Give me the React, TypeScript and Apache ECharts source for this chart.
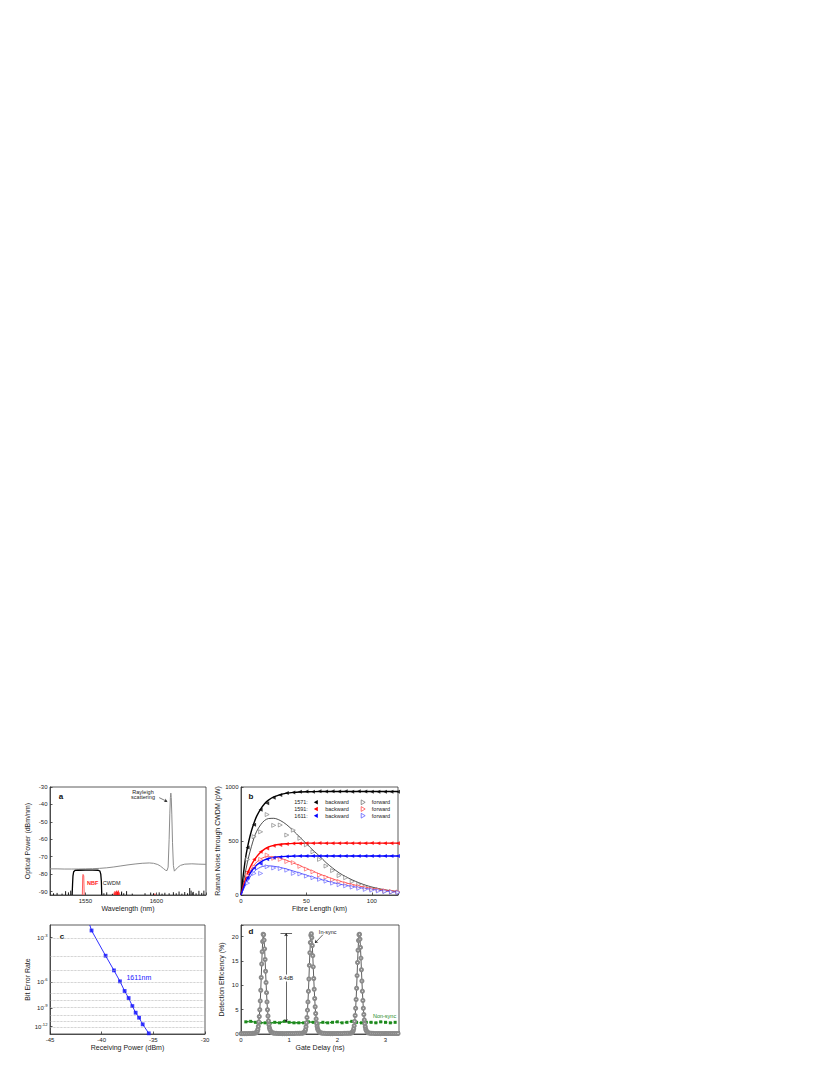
import React, { useEffect, useRef } from "react";
import * as echarts from "echarts";

const FONT = '"Liberation Sans", Arial, Helvetica, sans-serif';

// ---------------- Panel a : optical spectrum ----------------
const spectrumWl = [1525, 1530, 1535, 1540, 1545, 1550, 1555, 1560, 1565, 1570, 1575, 1580, 1585, 1590, 1595, 1598, 1601, 1603, 1605, 1606.5, 1607.5, 1608.3, 1609, 1609.5, 1609.9, 1610.2, 1610.5, 1610.9, 1611.4, 1612, 1612.7, 1613.5, 1615, 1617, 1620, 1625, 1630, 1635];
const spectrumDbm = [-77.0, -77.0, -77.1, -77.1, -77.1, -77.0, -76.9, -76.7, -76.4, -75.9, -75.3, -74.7, -74.2, -73.8, -73.6, -73.8, -74.5, -75.5, -76.8, -77.8, -78.0, -76, -60, -45, -36, -33.5, -36, -46, -62, -75, -78.3, -77.6, -76.2, -75.0, -74.3, -74.1, -74.3, -74.4];
const cwdmWl = [1540.6, 1540.9, 1541.2, 1541.7, 1542.6, 1545, 1550, 1555, 1559, 1560.2, 1560.8, 1561.2, 1561.5];
const cwdmDbm = [-92, -86, -81, -78.6, -77.9, -77.8, -77.7, -77.7, -77.8, -78.3, -80, -84, -92];
const nbfWl = [1547.8, 1548.1, 1548.3, 1548.6, 1548.8, 1549.1];
const nbfDbm = [-92, -81, -80.2, -80.2, -81, -92];
const noiseBlackWl = [1527.5, 1530, 1533.5, 1536, 1538, 1539.6, 1563, 1565, 1569, 1575.5, 1577, 1579, 1583, 1592, 1596, 1598, 1602, 1604, 1606, 1609, 1612, 1614, 1616, 1618, 1620, 1622, 1623.5, 1624.5, 1626, 1628, 1630, 1632, 1633.5];
const noiseBlackDbm = [-91, -90.8, -91.2, -89.8, -90.5, -89.5, -91, -90.5, -91.3, -90, -91, -89.8, -91.2, -91, -90.6, -91, -90.5, -91.2, -90.7, -91, -90.4, -91, -90, -91.2, -90.3, -91, -88, -89.5, -90.2, -91, -89.6, -90.8, -89.5];
const noiseRedWl = [1570.2, 1570.8, 1571.4, 1572, 1572.6, 1573.2, 1573.8, 1599];
const noiseRedDbm = [-90.6, -89.8, -90.3, -89.5, -90.1, -89.4, -90.5, -91.2];
const aYTicks = [-90, -80, -70, -60, -50, -40, -30];

// ---------------- Panel b : Raman noise vs fibre length ----------------
const legendNames = ["1571:", "1591:", "1611:"];
const fibreKm = [5, 10, 15, 20, 25, 30, 35, 40, 45, 50, 55, 60, 65, 70, 75, 80, 85, 90, 95, 100, 105, 110, 115, 120];
const ptBwd1571 = [440, 650, 790, 850, 900, 925, 945, 950, 955, 958, 955, 960, 958, 960, 958, 960, 957, 960, 958, 956, 957, 955, 956, 955];
const ptFwd1571 = [330, 540, 585, 745, 645, 648, 555, 600, 525, 465, 400, 330, 268, 226, 180, 160, 125, 100, 78, 60, 48, 35, 28, 22];
const ptBwd1591 = [215, 330, 400, 430, 456, 463, 472, 476, 478, 480, 479, 481, 480, 479, 480, 481, 480, 479, 480, 481, 480, 479, 480, 480];
const ptFwd1591 = [180, 262, 330, 370, 340, 330, 310, 300, 265, 240, 215, 185, 165, 140, 125, 105, 90, 78, 66, 55, 47, 40, 33, 28];
const ptBwd1611 = [160, 250, 290, 330, 345, 352, 357, 360, 361, 360, 361, 362, 361, 360, 361, 361, 360, 361, 362, 361, 360, 361, 361, 360];
const ptFwd1611 = [110, 200, 200, 262, 250, 245, 230, 200, 195, 175, 160, 145, 128, 110, 95, 85, 73, 62, 52, 45, 38, 32, 27, 23];
const fitKm = [0, 2, 4, 6, 8, 10, 12, 15, 18, 21, 25, 30, 35, 40, 45, 50, 55, 60, 65, 70, 75, 80, 85, 90, 95, 100, 105, 110, 115, 120];
const fitBwd1571 = [0, 210, 380, 500, 595, 670, 730, 795, 845, 878, 908, 930, 943, 950, 954, 956, 957, 958, 958, 959, 959, 959, 959, 959, 959, 959, 959, 959, 959, 959];
const fitFwd1571 = [0, 130, 250, 360, 450, 530, 590, 650, 690, 708, 710, 690, 650, 595, 535, 475, 415, 360, 300, 250, 205, 170, 140, 114, 92, 74, 60, 48, 39, 32];
const fitBwd1591 = [0, 90, 170, 230, 280, 320, 355, 395, 425, 445, 460, 470, 475, 478, 479, 480, 480, 480, 480, 480, 480, 480, 480, 480, 480, 480, 480, 480, 480, 480];
const fitFwd1591 = [0, 75, 140, 195, 240, 275, 305, 335, 350, 355, 352, 340, 320, 297, 272, 245, 220, 195, 172, 150, 130, 113, 98, 84, 72, 62, 53, 45, 38, 32];
const fitBwd1611 = [0, 70, 130, 180, 220, 252, 278, 305, 325, 338, 348, 355, 358, 360, 361, 361, 361, 361, 361, 361, 361, 361, 361, 361, 361, 361, 361, 361, 361, 361];
const fitFwd1611 = [0, 55, 105, 148, 185, 215, 237, 258, 268, 270, 266, 255, 240, 222, 203, 184, 165, 147, 131, 116, 102, 90, 79, 69, 60, 52, 44, 37, 31, 26];

// ---------------- Panel c : BER ----------------
const rxPower = [-40.98, -39.62, -38.81, -38.23, -37.78, -37.39, -37.03, -36.71, -36.38, -36.03, -35.44];
const berExp = [2.68, 3.97, 4.99, 5.92, 6.88, 7.68, 8.7, 9.65, 10.43, 11.57, 13.31]; // BER = 10^-n
const berLineLead = [-41.15, 2.46];
const berGridExp = [3, 4, 5, 6, 7, 8, 9, 10, 11, 12];
const berLabelExp = [3, 6, 9, 12];

// ---------------- Panel d : detection efficiency ----------------
const inSyncDelay = [
  0.0, 0.04, 0.08, 0.12, 0.16, 0.2, 0.24, 0.27, 0.3, 0.32, 0.33,
  0.34, 0.35, 0.36, 0.37, 0.38, 0.39, 0.4, 0.41, 0.42, 0.43, 0.44, 0.45, 0.46, 0.47, 0.48, 0.49, 0.5, 0.51, 0.52, 0.53, 0.54, 0.55, 0.56, 0.57, 0.58, 0.59, 0.6, 0.62, 0.64, 0.67, 0.7,
  0.74, 0.78, 0.82, 0.86, 0.9, 0.94, 0.98, 1.02, 1.06, 1.1, 1.14, 1.18, 1.22, 1.26, 1.29, 1.31, 1.32,
  1.33, 1.34, 1.35, 1.36, 1.37, 1.38, 1.39, 1.4, 1.41, 1.42, 1.43, 1.44, 1.45, 1.46, 1.47, 1.48, 1.49, 1.5, 1.51, 1.52, 1.53, 1.54, 1.55, 1.56, 1.57, 1.58, 1.59, 1.6, 1.62, 1.64, 1.67, 1.7,
  1.74, 1.78, 1.82, 1.86, 1.9, 1.94, 1.98, 2.02, 2.06, 2.1, 2.14, 2.18, 2.22, 2.26, 2.29, 2.31,
  2.32, 2.33, 2.34, 2.35, 2.36, 2.37, 2.38, 2.39, 2.4, 2.41, 2.42, 2.43, 2.44, 2.45, 2.46, 2.47, 2.48, 2.49, 2.5, 2.51, 2.52, 2.53, 2.54, 2.55, 2.56, 2.57, 2.58, 2.59, 2.6, 2.62, 2.64, 2.67, 2.7,
  2.74, 2.78, 2.82, 2.86, 2.9, 2.94, 2.98, 3.02, 3.06, 3.1, 3.14, 3.18, 3.22, 3.26,
];
const inSyncEff = [
  0.08, 0.07, 0.09, 0.08, 0.1, 0.1, 0.12, 0.15, 0.2, 0.3, 0.42,
  0.62, 1.0, 1.6, 2.5, 3.6, 5.0, 6.8, 9.0, 11.6, 14.4, 16.9, 19.0, 20.5, 20.4, 19.3, 17.5, 15.3, 12.9, 10.6, 8.5, 6.6, 5.0, 3.7, 2.7, 1.9, 1.3, 0.9, 0.5, 0.3, 0.2, 0.15,
  0.12, 0.1, 0.1, 0.09, 0.08, 0.09, 0.1, 0.1, 0.11, 0.1, 0.12, 0.12, 0.14, 0.16, 0.2, 0.3, 0.4,
  0.6, 0.9, 1.5, 2.3, 3.4, 4.9, 6.6, 8.8, 11.3, 14.1, 16.7, 18.8, 20.3, 20.6, 19.8, 18.2, 16.1, 13.8, 11.4, 9.2, 7.3, 5.6, 4.2, 3.1, 2.2, 1.6, 1.1, 0.8, 0.45, 0.3, 0.2, 0.15,
  0.12, 0.11, 0.1, 0.09, 0.09, 0.1, 0.1, 0.11, 0.1, 0.11, 0.12, 0.13, 0.14, 0.16, 0.2, 0.3,
  0.45, 0.7, 1.1, 1.7, 2.6, 3.8, 5.3, 7.1, 9.4, 12.0, 14.7, 17.2, 19.2, 20.4, 20.5, 19.5, 17.8, 15.6, 13.2, 10.9, 8.8, 6.9, 5.3, 4.0, 2.9, 2.1, 1.5, 1.0, 0.7, 0.4, 0.25, 0.18, 0.14,
  0.12, 0.11, 0.1, 0.1, 0.09, 0.1, 0.1, 0.11, 0.1, 0.1, 0.11, 0.1, 0.1, 0.1,
];
const nonSyncDelay = [0.1, 0.2, 0.3, 0.4, 0.5, 0.6, 0.7, 0.8, 0.9, 1.0, 1.1, 1.2, 1.3, 1.4, 1.5, 1.6, 1.7, 1.8, 1.9, 2.0, 2.1, 2.2, 2.3, 2.4, 2.5, 2.6, 2.7, 2.8, 2.9, 3.0, 3.1, 3.2];
const nonSyncEff = [2.5, 2.6, 2.4, 2.3, 2.3, 2.2, 2.4, 2.3, 2.6, 2.4, 2.3, 2.3, 2.3, 2.5, 2.4, 2.2, 2.4, 2.3, 2.4, 2.5, 2.3, 2.4, 2.6, 2.4, 2.3, 2.4, 2.4, 2.3, 2.5, 2.4, 2.3, 2.4];
const gapTop = 20.7;
const gapBottom = 2.4;

// ---------------- helpers ----------------
const zip = (xs: number[], ys: number[]) => xs.map((x, i) => [x, ys[i]]);
const AXIS_COLOR = "#333";
const TEXT_COLOR = "#222";

function axis(gridIndex: number, o: any) {
  const { axisLabel = {}, axisTick = {}, ...rest } = o;
  return {
    type: "value",
    gridIndex,
    nameLocation: "middle",
    nameTextStyle: { fontSize: 7, color: TEXT_COLOR, fontFamily: FONT },
    axisLine: { show: true, onZero: false, lineStyle: { color: AXIS_COLOR, width: 0.8 } },
    axisTick: { show: true, inside: true, length: 2.5, lineStyle: { color: AXIS_COLOR, width: 0.8 }, ...axisTick },
    axisLabel: { fontSize: 6, color: TEXT_COLOR, margin: 2.5, fontFamily: FONT, ...axisLabel },
    splitLine: { show: false },
    ...rest,
  };
}

function textPoint(coord: number[], text: string, color: string, extra: any = {}) {
  return {
    coord,
    symbol: "rect",
    symbolSize: 1,
    itemStyle: { color: "rgba(0,0,0,0)" },
    label: { show: true, position: "inside", formatter: text, color, fontSize: 5.5, fontFamily: FONT, lineHeight: 5.5, ...extra },
  };
}

function arrowLine(from: number[], to: number[], symbols: string[] = ["none", "arrow"]) {
  return [
    { coord: from, symbol: symbols[0] },
    { coord: to, symbol: symbols[1] },
  ];
}

function buildOption(): any {
  const aYmin = -92;
  const series: any[] = [];

  // ----- panel a -----
  series.push({
    type: "line", xAxisIndex: 0, yAxisIndex: 0, data: zip(spectrumWl, spectrumDbm), symbol: "none",
    lineStyle: { color: "#8c8c8c", width: 1 }, z: 2,
    markPoint: { silent: true, data: [textPoint([1590.6, -34.3], "Rayleigh\nscattering", TEXT_COLOR)] },
    markLine: {
      silent: true, symbolSize: 3, label: { show: false },
      lineStyle: { color: "#222", width: 0.6, type: "solid" },
      data: [arrowLine([1602, -36.1], [1607.7, -38.4])],
    },
  });
  series.push({
    type: "line", xAxisIndex: 0, yAxisIndex: 0, data: zip(cwdmWl, cwdmDbm), symbol: "none",
    lineStyle: { color: "#000", width: 1.3 }, z: 3,
    markPoint: {
      silent: true,
      data: [
        textPoint([1555.1, -85.3], "NBF", "#ff2020", { fontWeight: "bold" }),
        textPoint([1568.5, -85.3], "CWDM", TEXT_COLOR),
      ],
    },
  });
  series.push({
    type: "line", xAxisIndex: 0, yAxisIndex: 0, data: zip(nbfWl, nbfDbm), symbol: "none",
    lineStyle: { color: "#ff4a4a", width: 0.9 }, z: 4,
  });
  const spike = (color: string) => (params: any, api: any) => {
    const top = api.coord([api.value(0), api.value(1)]);
    const base = api.coord([api.value(0), aYmin]);
    return {
      type: "line",
      shape: { x1: top[0], y1: top[1], x2: base[0], y2: base[1] },
      style: { stroke: color, lineWidth: 0.9 },
    };
  };
  series.push({ type: "custom", xAxisIndex: 0, yAxisIndex: 0, data: zip(noiseBlackWl, noiseBlackDbm), renderItem: spike("#000"), silent: true, z: 3 });
  series.push({ type: "custom", xAxisIndex: 0, yAxisIndex: 0, data: zip(noiseRedWl, noiseRedDbm), renderItem: spike("#ff0000"), silent: true, z: 3 });

  // ----- panel b -----
  const bSets = [
    { bwd: ptBwd1571, fwd: ptFwd1571, fb: fitBwd1571, ff: fitFwd1571, c: "#000", cf: "#666", lf: "#222" },
    { bwd: ptBwd1591, fwd: ptFwd1591, fb: fitBwd1591, ff: fitFwd1591, c: "#ff0000", cf: "#ff3b3b", lf: "#ff3030" },
    { bwd: ptBwd1611, fwd: ptFwd1611, fb: fitBwd1611, ff: fitFwd1611, c: "#0000ff", cf: "#4a4aff", lf: "#3030ff" },
  ];
  bSets.forEach((s) => {
    series.push({ type: "line", xAxisIndex: 1, yAxisIndex: 1, data: zip(fitKm, s.fb), symbol: "none", smooth: 0.3, lineStyle: { color: s.c, width: 1.4 }, z: 2 });
    series.push({ type: "line", xAxisIndex: 1, yAxisIndex: 1, data: zip(fitKm, s.ff), symbol: "none", smooth: 0.3, lineStyle: { color: s.lf, width: 0.8 }, z: 2 });
    series.push({
      type: "scatter", xAxisIndex: 1, yAxisIndex: 1, data: zip(fibreKm, s.bwd), symbol: "triangle", symbolRotate: 90,
      symbolSize: 4, itemStyle: { color: s.c }, z: 3,
    });
    series.push({
      type: "scatter", xAxisIndex: 1, yAxisIndex: 1, data: zip(fibreKm, s.fwd), symbol: "triangle", symbolRotate: -90,
      symbolSize: 4, itemStyle: { color: "#fff", borderColor: s.cf, borderWidth: 0.7 }, z: 3,
    });
  });

  // ----- panel c -----
  const berT = berExp.map((n) => Math.log10(n));
  series.push({
    type: "line", xAxisIndex: 2, yAxisIndex: 2,
    data: [[berLineLead[0], Math.log10(berLineLead[1])], ...zip(rxPower, berT)],
    symbol: "none", lineStyle: { color: "#1a1aff", width: 0.9 }, z: 3,
    markLine: {
      silent: true, symbol: "none", label: { show: false },
      lineStyle: { color: "#a8a8a8", width: 0.7, type: "dotted" },
      data: berGridExp.map((n) => ({ yAxis: Math.log10(n) })),
    },
    markPoint: { silent: true, data: [textPoint([-36.4, Math.log10(5.59)], "1611nm", "#2020ff", { fontSize: 7 })] },
  });
  series.push({
    type: "scatter", xAxisIndex: 2, yAxisIndex: 2, data: zip(rxPower, berT), symbol: "rect", symbolSize: 3.8,
    itemStyle: { color: "#1010ff" }, z: 4,
  });

  // ----- panel d -----
  series.push({
    type: "line", xAxisIndex: 3, yAxisIndex: 3, data: zip(nonSyncDelay, nonSyncEff), symbol: "rect", symbolSize: 3,
    itemStyle: { color: "#1d8a1d" }, lineStyle: { color: "#1d8a1d", width: 1.4, type: [3, 2] }, z: 2,
    markLine: {
      silent: true, symbolSize: 3, label: { show: false },
      lineStyle: { color: "#222", width: 0.7, type: "solid" },
      data: [
        arrowLine([0.936, gapBottom], [0.936, gapTop], ["arrow", "arrow"]),
        arrowLine([0.82, gapTop], [1.06, gapTop], ["none", "none"]),
        arrowLine([1.7, 20.4], [1.535, 18.7]),
      ],
    },
    markPoint: {
      silent: true,
      data: [
        { ...textPoint([0.936, 11.5], "9.4dB", TEXT_COLOR), symbolSize: [17, 7], itemStyle: { color: "#fff" } },
        textPoint([1.8, 20.9], "In-sync", TEXT_COLOR),
        textPoint([2.98, 3.7], "Non-sync", "#1d8a1d"),
      ],
    },
  });
  series.push({
    type: "line", xAxisIndex: 3, yAxisIndex: 3, data: zip(inSyncDelay, inSyncEff), symbol: "emptyCircle", symbolSize: 3.1,
    showAllSymbol: true, itemStyle: { color: "#8a8a8a", borderWidth: 0.6 }, lineStyle: { color: "#333", width: 0.8 }, z: 3,
  });

  // ----- graphics: panel letters and legend of b -----
  const graphic: any[] = [];
  const letter = (t: string, x: number, y: number) =>
    graphic.push({ type: "text", x, y, style: { text: t, fontSize: 8, fontWeight: "bold", fill: "#111", fontFamily: FONT, textAlign: "center", textVerticalAlign: "middle" } });
  letter("a", 61, 796);
  letter("b", 251, 796);
  letter("c", 62, 936);
  letter("d", 251, 931);

  const rowY = [802.3, 809, 815.7];
  bSets.forEach((s, i) => {
    const y = rowY[i];
    const txt = (t: string, x: number) =>
      graphic.push({ type: "text", x, y, style: { text: t, fontSize: 5.5, fill: TEXT_COLOR, fontFamily: FONT, textAlign: "center", textVerticalAlign: "middle" } });
    txt(legendNames[i], 301);
    txt("backward", 337);
    txt("forward", 381);
    graphic.push({ type: "polygon", shape: { points: [[313.8, y], [317.8, y - 2.3], [317.8, y + 2.3]] }, style: { fill: s.c } });
    graphic.push({ type: "polygon", shape: { points: [[365.2, y], [361.2, y - 2.4], [361.2, y + 2.4]] }, style: { fill: "#fff", stroke: s.cf, lineWidth: 0.7 } });
  });

  return {
    animation: false,
    backgroundColor: "#fff",
    textStyle: { fontFamily: FONT },
    grid: [
      { left: 50, top: 787, width: 156, height: 108, show: true, borderColor: AXIS_COLOR, borderWidth: 0.8 },
      { left: 241, top: 787, width: 157, height: 108, show: true, borderColor: AXIS_COLOR, borderWidth: 0.8 },
      { left: 50, top: 925, width: 155, height: 109, show: true, borderColor: AXIS_COLOR, borderWidth: 0.8 },
      { left: 241, top: 925, width: 158, height: 109, show: true, borderColor: AXIS_COLOR, borderWidth: 0.8 },
    ],
    xAxis: [
      axis(0, { min: 1525, max: 1635, interval: 25, name: "Wavelength (nm)", nameGap: 10, axisLabel: { formatter: (v: number) => (v % 50 === 0 ? String(v) : "") } }),
      axis(1, { min: 0, max: 120, interval: 50, name: "Fibre Length (km)", nameGap: 10, axisLabel: { formatter: (v: number) => (v % 50 === 0 ? String(v) : "") } }),
      axis(2, { min: -45, max: -30, interval: 5, name: "Receiving Power (dBm)", nameGap: 10, axisLabel: { formatter: (v: number) => String(v) } }),
      axis(3, { min: 0, max: 3.28, interval: 1, name: "Gate Delay (ns)", nameGap: 10, axisLabel: { formatter: (v: number) => (Number.isInteger(v) ? String(v) : "") } }),
    ],
    yAxis: [
      axis(0, { min: aYmin, max: -30, name: "Optical Power (dBm/nm)", nameGap: 19, axisLabel: { customValues: aYTicks, formatter: (v: number) => String(v) }, axisTick: { customValues: aYTicks } }),
      axis(1, { min: 0, max: 1000, interval: 500, name: "Raman Noise through CWDM (pW)", nameGap: 17, axisLabel: { formatter: (v: number) => String(v) } }),
      axis(2, {
        min: Math.log10(2.46), max: Math.log10(13.45), inverse: true, name: "Bit Error Rate", nameGap: 19,
        axisTick: { customValues: berLabelExp.map((n) => Math.log10(n)) },
        axisLabel: {
          customValues: berLabelExp.map((n) => Math.log10(n)),
          formatter: (v: number) => `{b|10}{s|-${Math.round(Math.pow(10, v))}}`,
          rich: {
            b: { fontSize: 6, lineHeight: 9, color: TEXT_COLOR, fontFamily: FONT },
            s: { fontSize: 4.2, lineHeight: 5, verticalAlign: "top", color: TEXT_COLOR, fontFamily: FONT },
          },
        },
      }),
      axis(3, { min: 0, max: 22.4, interval: 5, name: "Detection Efficiency (%)", nameGap: 16, axisLabel: { formatter: (v: number) => (v % 5 === 0 ? String(v) : "") } }),
    ],
    series,
    graphic,
  };
}

export default function App() {
  const ref = useRef<HTMLDivElement>(null);
  useEffect(() => {
    const chart = echarts.init(ref.current!, null, { renderer: "svg" });
    chart.setOption(buildOption());
    return () => chart.dispose();
  }, []);
  return <div ref={ref} style={{ position: "absolute", left: 0, top: 0, width: 830, height: 1075 }} />;
}
